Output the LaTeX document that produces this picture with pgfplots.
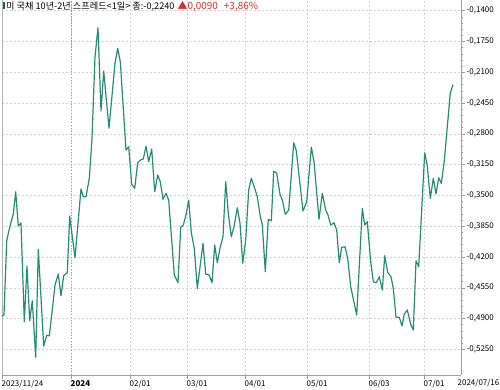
\documentclass[border=0pt]{standalone}
\usepackage{fontspec}
\setmainfont{Noto Sans CJK KR}
\usepackage{pgfplots}
\pgfplotsset{compat=1.18}
\definecolor{spread}{RGB}{38,140,112}
\definecolor{upred}{RGB}{220,45,45}
\begin{document}
\begin{tikzpicture}[x=1bp,y=1bp]
\useasboundingbox (0,0) rectangle (500,389);
\begin{axis}[at={(2bp,14bp)}, anchor=south west, scale only axis,
  width=459bp, height=375bp,
  xmin=2, xmax=461, ymin=-0.5542, ymax=-0.1278,
  axis x line*=bottom, axis y line*=right,
  axis line style={gray!75, line width=0.6pt, -},
  xtick={2,71,130,187,245,307,369,424},
  xticklabels={2023/11/24,\textbf{2024},02/01,03/01,04/01,05/01,06/03,07/01},
  x tick label style={anchor=north west, inner sep=0pt, xshift=-0.5bp, yshift=-1bp, font=\fontsize{8}{9}\selectfont},
  ytick={-0.14,-0.175,-0.21,-0.245,-0.28,-0.315,-0.35,-0.385,-0.42,-0.455,-0.49,-0.525},
  yticklabels={{-0,1400},{-0,1750},{-0,2100},{-0,2450},{-0,2800},{-0,3150},{-0,3500},{-0,3850},{-0,4200},{-0,4550},{-0,4900},{-0,5250}},
  y tick label style={anchor=west, inner sep=0pt, xshift=1.5bp, font=\fontsize{8}{9}\selectfont},
  minor y tick num=4,
  xtick align=outside, ytick align=outside,
  major tick length=4bp, minor tick length=2bp,
  tick style={gray!80, line width=0.5pt},
  grid=major, major grid style={gray!35, line width=0.5pt, dash pattern=on 2bp off 2bp},
  minor grid style={draw=none},
]
\draw[gray!60, line width=0.6pt] (rel axis cs:0,0) -- (rel axis cs:0,1);
\draw[gray!75, line width=0.6pt, dash pattern=on 1.5bp off 1.5bp] (axis cs:71,-0.5542) -- (axis cs:71,-0.1278);
\addplot[spread, line width=1.2pt, line join=round] coordinates {
(2,-0.4872) (4,-0.4860) (6.7,-0.4015) (10,-0.3848) (13.3,-0.3712) (15.7,-0.3458)
(18.3,-0.3848) (21,-0.3814) (24.3,-0.4936) (27,-0.4303) (29.7,-0.4925) (32.3,-0.4698)
(35.7,-0.5341) (38.3,-0.4113) (43.7,-0.5213) (46.7,-0.5091) (49.3,-0.5096) (52.3,-0.4803)
(55,-0.4519) (58.3,-0.4394) (61,-0.4641) (63.7,-0.4413) (67.3,-0.4379) (69.7,-0.3734)
(75,-0.4209) (81,-0.3427) (83.3,-0.3515) (86,-0.3515) (89.3,-0.3306) (92,-0.2851)
(95,-0.1923) (98,-0.1593) (101,-0.2541) (103.7,-0.2086) (109,-0.2737) (115,-0.1998)
(117.7,-0.1828) (120.3,-0.1980) (126,-0.2984) (128.7,-0.2946) (131.7,-0.3374) (134.7,-0.3419)
(137.7,-0.3128) (140.3,-0.3098) (143.3,-0.3086) (146,-0.2939) (148.7,-0.3117) (151.7,-0.2973)
(154.7,-0.3458) (157.7,-0.3268) (160.3,-0.3344) (163,-0.3545) (166,-0.3476) (168.7,-0.3553)
(174.3,-0.4405) (178,-0.4493) (180.7,-0.3863) (183.3,-0.3837) (186,-0.3723) (188.7,-0.3553)
(191.3,-0.3924) (194.3,-0.4102) (197.3,-0.4557) (203,-0.4045) (205.7,-0.4394) (209,-0.4402)
(212,-0.4493) (214.7,-0.4064) (217.3,-0.4266) (220.3,-0.4084) (223,-0.3970) (225.7,-0.3344)
(228.3,-0.3704) (231.3,-0.3970) (234,-0.3856) (237.3,-0.3640) (240,-0.3817) (242.7,-0.4272)
(245.7,-0.4007) (248.7,-0.3439) (251.3,-0.3306) (254.7,-0.3419) (257.3,-0.3515) (260,-0.3723)
(262.3,-0.3837) (265.3,-0.4368) (268.3,-0.3772) (271.3,-0.3788) (273.7,-0.3223) (276.7,-0.3249)
(280,-0.3488) (282.3,-0.3553) (285.3,-0.3715) (288.7,-0.3666) (293.7,-0.2901) (296.3,-0.2992)
(303,-0.3678) (306.7,-0.3572) (311.3,-0.2953) (314,-0.3117) (319,-0.3772) (322.3,-0.3476)
(325.7,-0.3666) (328,-0.3723) (330.7,-0.3837) (334,-0.3811) (336.7,-0.3894) (339.3,-0.4266)
(341.7,-0.4090) (345,-0.4084) (347.7,-0.4215) (350.7,-0.4538) (356.7,-0.4860) (362.3,-0.3647)
(364.7,-0.3837) (367.3,-0.3799) (370.7,-0.4254) (373.3,-0.4482) (376.3,-0.4493) (379.3,-0.4425)
(382.3,-0.4576) (384.7,-0.4186) (387.7,-0.4375) (391,-0.4425) (393.3,-0.4557) (396,-0.4886)
(399.3,-0.4886) (402,-0.4985) (404.3,-0.4849) (407.3,-0.4803) (410.7,-0.4966) (413.3,-0.5031)
(416,-0.4243) (418.7,-0.4311) (424.7,-0.3015) (427.3,-0.3166) (430.3,-0.3533) (433.3,-0.3306)
(436,-0.3484) (438.7,-0.3299) (441.3,-0.3363) (444.3,-0.3106) (450.3,-0.2332) (453,-0.2240)
};
\end{axis}
\node[anchor=north west, inner sep=0pt, font=\fontsize{8}{9}\selectfont] at (457.5,10.5) {2024/07/16};
\fill[spread!70!black] (3,379.5) rectangle (4.8,386.5);
\node[anchor=west, inner sep=0pt, font=\fontsize{9.2}{10}\selectfont] at (6,383) {미 국채 10년-2년 스프레드<1일> 종:-0,2240\hspace{3bp}\textcolor{upred}{\fontsize{10}{10}\selectfont ▲0,0090\hspace{6bp}+3,86\%}};
\end{tikzpicture}
\end{document}
